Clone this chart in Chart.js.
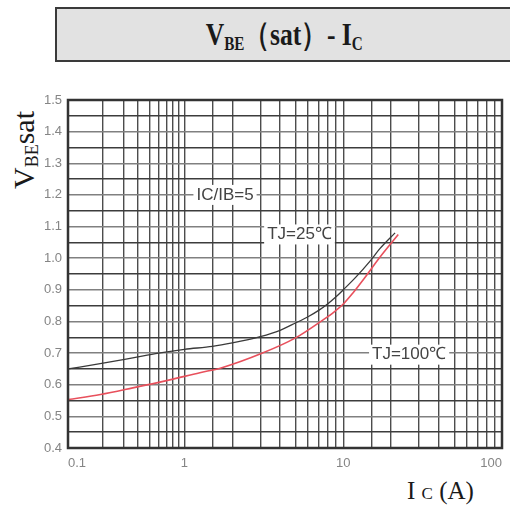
<!DOCTYPE html>
<html>
<head>
<meta charset="utf-8">
<title>VBE(sat) - IC</title>
<script src="https://cdn.jsdelivr.net/npm/chart.js@4.4.1/dist/chart.umd.min.js"></script>
<style>
  body { margin: 0; width: 510px; height: 516px; overflow: hidden; background: #fff; position: relative; }
  #chart { position: absolute; left: 0; top: 0; }
  .title-box {
    position: absolute; left: 55px; top: 7px; width: 454px; height: 51px;
    background: #e2e2e2; border: 2px solid #3a3a3a;
    display: flex; align-items: center; justify-content: center;
  }
  .title-box span.t {
    font-family: "Liberation Serif", "Times New Roman", serif; font-weight: bold;
    font-size: 32px; color: #1a1a1a; white-space: nowrap;
    transform: scaleX(0.8); display: inline-block;
  }
  .title-box sub { font-size: 19px; vertical-align: -5px; }
  .y-title {
    position: absolute; left: 25px; top: 150px;
    transform: translate(-50%, -50%) rotate(-90deg);
    font-family: "Liberation Serif", "Times New Roman", serif;
    font-size: 30px; color: #1a1a1a; white-space: nowrap;
  }
  .y-title sub { font-size: 18px; vertical-align: -4px; }
  .x-title {
    position: absolute; left: 407px; top: 477px;
    font-family: "Liberation Serif", "Times New Roman", serif;
    font-size: 25px; color: #1a1a1a; white-space: nowrap;
  }
  .x-title .c { font-size: 17px; }
</style>
</head>
<body>
<div class="title-box"><span class="t">V<sub>BE</sub>（sat）- I<sub>C</sub></span></div>
<div class="y-title">V<sub>BE</sub>sat</div>
<div class="x-title">I <span class="c">C</span> (A)</div>
<canvas id="chart" width="510" height="516"></canvas>
<script>
// collector current (A) and VBE(sat) (V)
const IC_25 = [0.1, 0.2, 0.36, 0.6, 1, 1.5, 2, 3, 4, 5, 6, 7, 8, 9, 10, 12, 14.7, 17, 21.2];
const VBE_25 = [0.65, 0.668, 0.685, 0.7, 0.712, 0.721, 0.732, 0.752, 0.772, 0.795, 0.815, 0.835, 0.856, 0.878, 0.9, 0.94, 0.99, 1.03, 1.08];
const IC_100 = [0.1, 0.19, 0.36, 0.7, 1.25, 1.7, 3.1, 5, 7.5, 8.5, 10, 11.5, 13.5, 17, 22.2];
const VBE_100 = [0.553, 0.569, 0.59, 0.613, 0.638, 0.653, 0.7, 0.748, 0.806, 0.825, 0.855, 0.89, 0.935, 1.003, 1.075];

const X_TICK_LABELS = [0.1, 1, 10, 100];
const Y_TICK_LABELS = [0.4, 0.5, 0.6, 0.7, 0.8, 0.9, 1.0, 1.1, 1.2, 1.3, 1.4, 1.5];

// text notes on the plot: [text, Ic, VBE]
const NOTE_TEXT = ["IC/IB=5", "TJ=25℃", "TJ=100℃"];
const NOTE_IC = [1.8, 5.3, 26];
const NOTE_VBE = [1.2, 1.075, 0.695];

// the printed grid has a short first decade, so the log axis is warped per decade
const WARP_IN = [0, 1 / 3, 2 / 3, 1];
const WARP_OUT = [0, 0.2684, 0.6343, 1];

const lerpTable = (v, a, b) => {
  let i = 0;
  while (i < a.length - 2 && v > a[i + 1]) i++;
  return b[i] + (v - a[i]) * (b[i + 1] - b[i]) / (a[i + 1] - a[i]);
};

class WarpedLogScale extends Chart.LogarithmicScale {
  getPixelForValue(value) {
    if (value === undefined || value === 0) value = this.min;
    if (value === null || isNaN(value)) return NaN;
    const f = (Math.log10(value) - this._startValue) / this._valueRange;
    return this.getPixelForDecimal(lerpTable(f, WARP_IN, WARP_OUT));
  }
  getValueForPixel(pixel) {
    const d = lerpTable(this.getDecimalForPixel(pixel), WARP_OUT, WARP_IN);
    return Math.pow(10, this._startValue + d * this._valueRange);
  }
}
WarpedLogScale.id = "warpedLog";
WarpedLogScale.defaults = Chart.LogarithmicScale.defaults;
Chart.register(WarpedLogScale);

const near = (a, b) => Math.abs(a - b) < 1e-6 * Math.max(1, Math.abs(b));
const tickFont = { family: '"Liberation Sans Narrow", "Liberation Sans", Arial, sans-serif', size: 13 };

const framePlugin = {
  id: "frame",
  afterDraw(chart) {
    const { ctx, chartArea: a } = chart;
    ctx.save();
    ctx.strokeStyle = "#333";
    ctx.lineWidth = 2.5;
    ctx.strokeRect(a.left, a.top, a.right - a.left, a.bottom - a.top);
    ctx.restore();
  },
};

const notesPlugin = {
  id: "notes",
  afterDatasetsDraw(chart) {
    const { ctx, scales } = chart;
    ctx.save();
    ctx.font = '17px "Liberation Sans", Arial, sans-serif';
    ctx.textAlign = "center";
    ctx.textBaseline = "middle";
    NOTE_TEXT.forEach((t, i) => {
      const x = scales.x.getPixelForValue(NOTE_IC[i]);
      const y = scales.y.getPixelForValue(NOTE_VBE[i]);
      const w = ctx.measureText(t).width;
      ctx.fillStyle = "#fff";
      ctx.fillRect(x - w / 2 - 3, y - 10, w + 6, 20);
      ctx.fillStyle = "#444";
      ctx.fillText(t, x, y);
    });
    ctx.restore();
  },
};

const toPoints = (xs, ys) => xs.map((x, i) => ({ x: x, y: ys[i] }));

new Chart(document.getElementById("chart"), {
  type: "line",
  data: {
    datasets: [
      {
        label: "TJ=25℃",
        data: toPoints(IC_25, VBE_25),
        borderColor: "#3a3a3a",
        borderWidth: 1.3,
        pointRadius: 0,
        cubicInterpolationMode: "monotone",
      },
      {
        label: "TJ=100℃",
        data: toPoints(IC_100, VBE_100),
        borderColor: "#e8505c",
        borderWidth: 1.6,
        pointRadius: 0,
        cubicInterpolationMode: "monotone",
      },
    ],
  },
  options: {
    responsive: false,
    animation: false,
    layout: { padding: { left: 0, top: 100, right: 8, bottom: 0 } },
    plugins: { legend: { display: false }, tooltip: { enabled: false } },
    scales: {
      x: {
        type: "warpedLog",
        min: 0.1,
        max: 100,
        afterFit: (s) => { s.height = 68; },
        border: { display: false, color: "#333" },
        grid: { color: "#4c4c4c", lineWidth: 1.4, drawTicks: false },
        ticks: {
          autoSkip: false,
          maxRotation: 0,
          align: "inner",
          padding: 8,
          color: "#858585",
          font: tickFont,
          callback: (v) => {
            const hit = X_TICK_LABELS.find((t) => near(v, t));
            return hit === undefined ? "" : String(hit);
          },
        },
      },
      y: {
        type: "linear",
        min: 0.4,
        max: 1.5,
        afterFit: (s) => { s.width = 68; },
        border: { display: false, color: "#333" },
        grid: {
          drawTicks: false,
          lineWidth: 1.4,
          color: (c) => (c.tick && Y_TICK_LABELS.some((t) => near(c.tick.value, t)) ? "#808080" : "#3c3c3c"),
        },
        ticks: {
          stepSize: 0.05,
          maxTicksLimit: 40,
          autoSkip: false,
          padding: 6,
          color: "#858585",
          font: tickFont,
          callback: (v) => {
            const hit = Y_TICK_LABELS.find((t) => near(v, t));
            return hit === undefined ? "" : hit.toFixed(1);
          },
        },
      },
    },
  },
  plugins: [framePlugin, notesPlugin],
});
</script>
</body>
</html>
